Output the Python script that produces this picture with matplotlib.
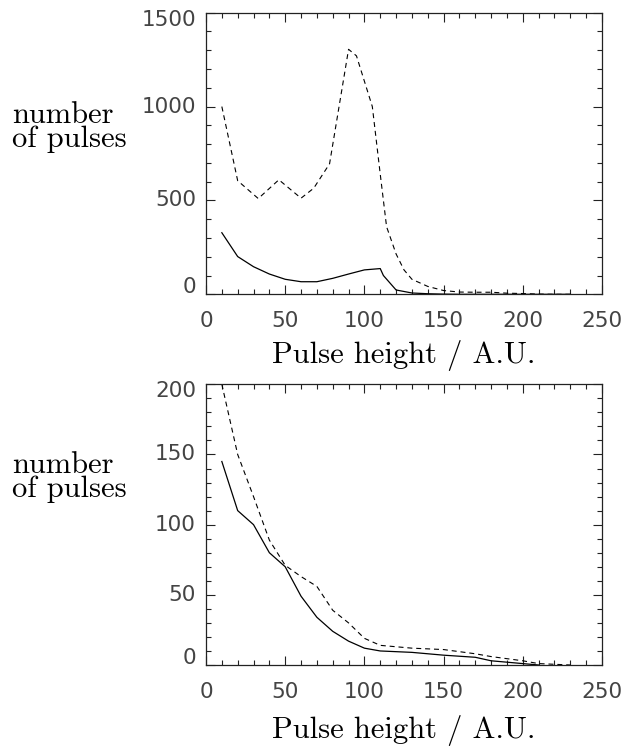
import matplotlib
matplotlib.use("Agg")
import matplotlib.pyplot as plt
from matplotlib.ticker import MultipleLocator, FixedLocator

# Pulse-height spectra: upper panel and lower panel, two series each
top_dash_x = [10, 20, 33, 46, 60, 68, 78, 90, 95, 105, 110, 114, 120, 125, 130, 140, 150, 160, 170, 180, 190, 200, 210, 220, 230]
top_dash_y = [1000, 605, 510, 610, 512, 565, 695, 1305, 1270, 1000, 640, 360, 215, 130, 80, 42, 20, 12, 11, 11, 6, 4, 1, 0, 0]

top_solid_x = [10, 20, 30, 40, 50, 60, 70, 80, 90, 100, 110, 112, 120, 130, 140, 150, 160, 170, 180, 190, 200, 210, 220, 230]
top_solid_y = [328, 201, 147, 108, 80, 67, 67, 85, 108, 130, 137, 100, 23, 7, 3, 1, 0, 0, 0, 0, 0, 0, 0, 0]

bot_dash_x = [10, 20, 30, 40, 50, 60, 70, 80, 90, 100, 110, 130, 150, 170, 180, 200, 210, 230]
bot_dash_y = [200, 150, 120, 89, 71, 63, 56, 39, 30, 19, 14, 12, 11, 8, 6, 3, 1, 0]

bot_solid_x = [10, 20, 30, 40, 50, 60, 70, 80, 90, 100, 110, 130, 150, 170, 180, 200, 210]
bot_solid_y = [145, 110, 100, 80, 70, 49, 34, 24, 17, 12, 10, 9, 7, 5.5, 3, 1, 0]

x_ticks = [0, 50, 100, 150, 200, 250]
top_y_ticks = [0, 500, 1000, 1500]
bot_y_ticks = [0, 50, 100, 150, 200]

x_label = "Pulse height / A.U."
y_label = "number\nof pulses"

W, H = 629, 748
fig = plt.figure(figsize=(W / 100, H / 100), dpi=100)

tick_font = dict(family="DejaVu Sans", size=15.5)
tick_color = "#444444"
label_font = dict(family="cmr10", size=22)

panels = [
    dict(rect=[206, 12.7, 602, 294.3], ymax=1500, yticks=top_y_ticks, yminor=100,
         dash=(top_dash_x, top_dash_y), solid=(top_solid_x, top_solid_y), ylab_y=127, xlab_dy=61),
    dict(rect=[206, 384.3, 602, 665], ymax=200, yticks=bot_y_ticks, yminor=10,
         dash=(bot_dash_x, bot_dash_y), solid=(bot_solid_x, bot_solid_y), ylab_y=477, xlab_dy=66),
]

for p in panels:
    x0, y0, x1, y1 = p["rect"]
    ax = fig.add_axes([x0 / W, 1 - y1 / H, (x1 - x0) / W, (y1 - y0) / H])
    ax.plot(*p["dash"], color="black", lw=0.8, linestyle=(0, (4.5, 3.5)))
    ax.plot(*p["solid"], color="black", lw=0.9)
    ax.set_xlim(0, 250)
    ax.set_ylim(0, p["ymax"])

    ax.xaxis.set_major_locator(FixedLocator(x_ticks))
    ax.xaxis.set_minor_locator(MultipleLocator(10))
    ax.yaxis.set_major_locator(FixedLocator(p["yticks"]))
    ax.yaxis.set_minor_locator(MultipleLocator(p["yminor"]))
    ax.tick_params(which="both", direction="in", top=True, right=True, width=0.8, color="#222222")
    ax.tick_params(which="major", length=6.5)
    ax.tick_params(which="minor", length=3.3)
    ax.tick_params(axis="x", which="major", pad=12)

    ax.set_xticklabels([str(v) for v in x_ticks], fontdict=tick_font, color=tick_color)
    # the lowest and highest y labels sit slightly inside the frame
    ylabels = [str(v) for v in p["yticks"]]
    ax.set_yticklabels([""] * len(ylabels))
    for v, s in zip(p["yticks"], ylabels):
        shift = 0
        if v == p["yticks"][0]:
            shift = 7
        elif v == p["yticks"][-1]:
            shift = -7
        yf = 1 - ((y1 - (v / p["ymax"]) * (y1 - y0)) - shift) / H
        fig.text((x0 - 10) / W, yf, s, ha="right", va="center", color=tick_color, **tick_font)

    for sp in ax.spines.values():
        sp.set_linewidth(0.9)
        sp.set_color("#222222")

    fig.text((x0 + x1) / 2 / W, 1 - (y1 + p["xlab_dy"]) / H, x_label, ha="center", va="center", **label_font)
    fig.text(12 / W, 1 - p["ylab_y"] / H, y_label, ha="left", va="center",
             linespacing=0.85, **label_font)

fig.savefig("out.png", dpi=100, facecolor="white")
